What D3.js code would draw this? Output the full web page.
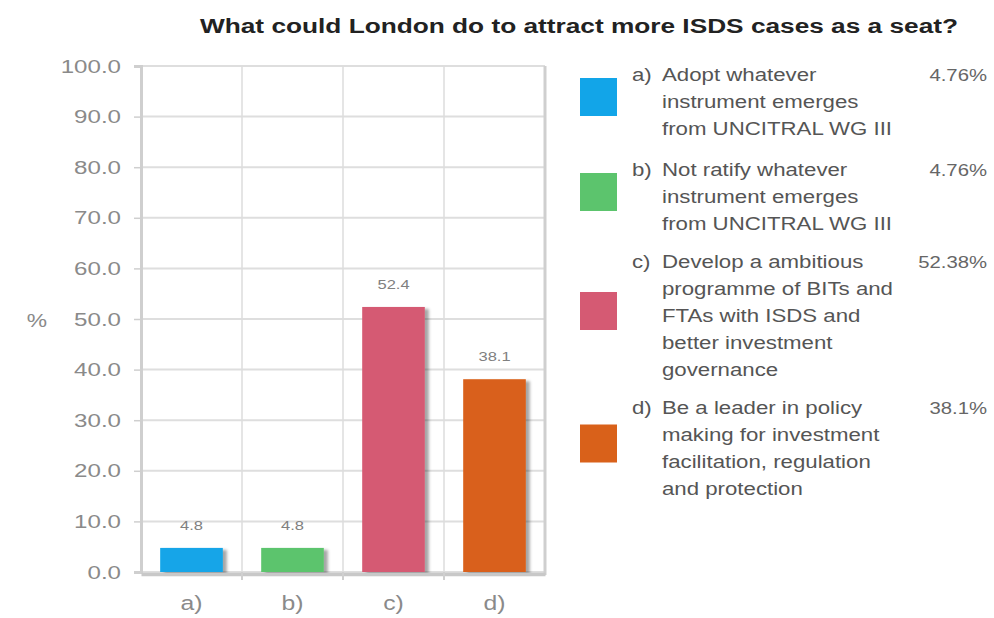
<!DOCTYPE html>
<html>
<head>
<meta charset="utf-8">
<script src="https://cdn.jsdelivr.net/npm/d3@7/dist/d3.min.js"></script>
<style>
  html, body { margin: 0; padding: 0; background: #fff; }
  svg { display: block; font-family: "Liberation Sans", Arial, sans-serif; }
</style>
</head>
<body>
<svg id="chart" width="994" height="618"></svg>
<script>
// Survey answers and their shares (%)
const categories = ["a)", "b)", "c)", "d)"];
const values = [4.76, 4.76, 52.38, 38.1];
const colors = ["#12a5e8", "#5cc46d", "#d55a73", "#d9611a"];
const legendLines = [
  ["Adopt whatever", "instrument emerges", "from UNCITRAL WG III"],
  ["Not ratify whatever", "instrument emerges", "from UNCITRAL WG III"],
  ["Develop a ambitious", "programme of BITs and", "FTAs with ISDS and", "better investment", "governance"],
  ["Be a leader in policy", "making for investment", "facilitation, regulation", "and protection"]
];
const percentLabels = ["4.76%", "4.76%", "52.38%", "38.1%"];
const yTicks = [0, 10, 20, 30, 40, 50, 60, 70, 80, 90, 100];
const titleText = "What could London do to attract more ISDS cases as a seat?";

// text is drawn slightly wide
const SX = 1.27;
const wide = (x, y) => `translate(${x},${y}) scale(${SX},1)`;

const svg = d3.select("#chart");

// soft shadow under the bars
const defs = svg.append("defs");
const f = defs.append("filter").attr("id", "shadow")
  .attr("x", "-20%").attr("y", "-20%").attr("width", "150%").attr("height", "150%");
f.append("feDropShadow").attr("dx", 4).attr("dy", 2).attr("stdDeviation", 1.6)
  .attr("flood-color", "#000").attr("flood-opacity", 0.35);

const plot = { left: 141, right: 545, top: 66, bottom: 572 };

const x = d3.scaleBand().domain(categories).range([plot.left, plot.right]).paddingInner(0.38).paddingOuter(0.19);
const xb = d3.scaleBand().domain(categories).range([plot.left, plot.right]);
const y = d3.scaleLinear().domain([0, 100]).range([plot.bottom, plot.top]);

// Title
svg.append("text")
  .attr("x", 200).attr("y", 33)
  .attr("font-size", 20).attr("font-weight", "bold").attr("fill", "#222")
  .attr("textLength", 758).attr("lengthAdjust", "spacingAndGlyphs")
  .text(titleText);

// Horizontal grid
svg.append("g").selectAll("line").data(yTicks).join("line")
  .attr("x1", plot.left).attr("x2", plot.right)
  .attr("y1", d => y(d)).attr("y2", d => y(d))
  .attr("stroke", "#dedede").attr("stroke-width", 2);

// Vertical grid at category boundaries
svg.append("g").selectAll("line").data(categories.slice(1)).join("line")
  .attr("x1", d => xb(d)).attr("x2", d => xb(d))
  .attr("y1", plot.top).attr("y2", plot.bottom)
  .attr("stroke", "#dcdcdc").attr("stroke-width", 1.5);

// Y axis
const yAxis = svg.append("g").attr("transform", `translate(${plot.left},0)`)
  .call(d3.axisLeft(y).tickValues(yTicks).tickFormat(d3.format(".1f")).tickSize(7).tickPadding(12));
yAxis.select(".domain").attr("stroke", "#cfcfcf").attr("stroke-width", 3);
yAxis.selectAll(".tick line").attr("stroke", "#cfcfcf").attr("stroke-width", 1.5);
yAxis.selectAll(".tick text")
  .attr("x", 0)
  .attr("transform", wide(-20, 0))
  .attr("font-size", 19).attr("fill", "#8a8a8a")
  .attr("font-family", "Liberation Sans, Arial, sans-serif");

// Right frame line
svg.append("line")
  .attr("x1", plot.right).attr("x2", plot.right)
  .attr("y1", plot.top).attr("y2", plot.bottom + 3)
  .attr("stroke", "#cfcfcf").attr("stroke-width", 3);

// Y axis title
svg.append("text")
  .attr("transform", wide(37, 327))
  .attr("text-anchor", "middle")
  .attr("font-size", 18).attr("fill", "#8a8a8a")
  .text("%");

// Bars
svg.append("g").selectAll("rect").data(values).join("rect")
  .attr("x", (d, i) => x(categories[i]))
  .attr("y", d => y(d))
  .attr("width", x.bandwidth())
  .attr("height", d => y(0) - y(d))
  .attr("fill", (d, i) => colors[i])
  .attr("filter", "url(#shadow)");

// Value labels
svg.append("g").selectAll("text").data(values).join("text")
  .attr("transform", (d, i) => wide(x(categories[i]) + x.bandwidth() / 2, y(d) - 18))
  .attr("text-anchor", "middle")
  .attr("font-size", 13).attr("fill", "#808080")
  .text(d => d.toFixed(1));

// X axis
const xAxis = svg.append("g").attr("transform", `translate(0,${plot.bottom + 2})`)
  .call(d3.axisBottom(xb).tickSize(0).tickPadding(18));
xAxis.select(".domain").attr("stroke", "#c8c8c8").attr("stroke-width", 3.5);
xAxis.selectAll(".tick text")
  .attr("y", 0).attr("dy", 0)
  .attr("transform", wide(0, 36))
  .attr("font-size", 19.5).attr("fill", "#8a8a8a")
  .attr("font-family", "Liberation Sans, Arial, sans-serif");
svg.append("g").selectAll("line").data(categories.slice(1)).join("line")
  .attr("x1", d => xb(d)).attr("x2", d => xb(d))
  .attr("y1", plot.bottom).attr("y2", plot.bottom + 8)
  .attr("stroke", "#cfcfcf").attr("stroke-width", 2);

// Legend
const lineH = 27;
const legendStarts = [75, 170, 262, 408];
const legend = svg.append("g");
legendLines.forEach((lines, i) => {
  const top = legendStarts[i];
  const mid = top + (lines.length - 1) * lineH / 2 - 5;
  legend.append("rect")
    .attr("x", 580).attr("y", mid - 19)
    .attr("width", 37).attr("height", 38)
    .attr("fill", colors[i]);
  legend.append("text")
    .attr("transform", wide(632, top + 6))
    .attr("font-size", 17.5).attr("fill", "#555")
    .text(categories[i]);
  lines.forEach((ln, j) => {
    legend.append("text")
      .attr("transform", wide(662, top + 6 + j * lineH))
      .attr("font-size", 17.5).attr("fill", "#555")
      .text(ln);
  });
  legend.append("text")
    .attr("transform", wide(987, top + 6))
    .attr("text-anchor", "end")
    .attr("font-size", 16).attr("fill", "#666")
    .text(percentLabels[i]);
});
</script>
</body>
</html>
